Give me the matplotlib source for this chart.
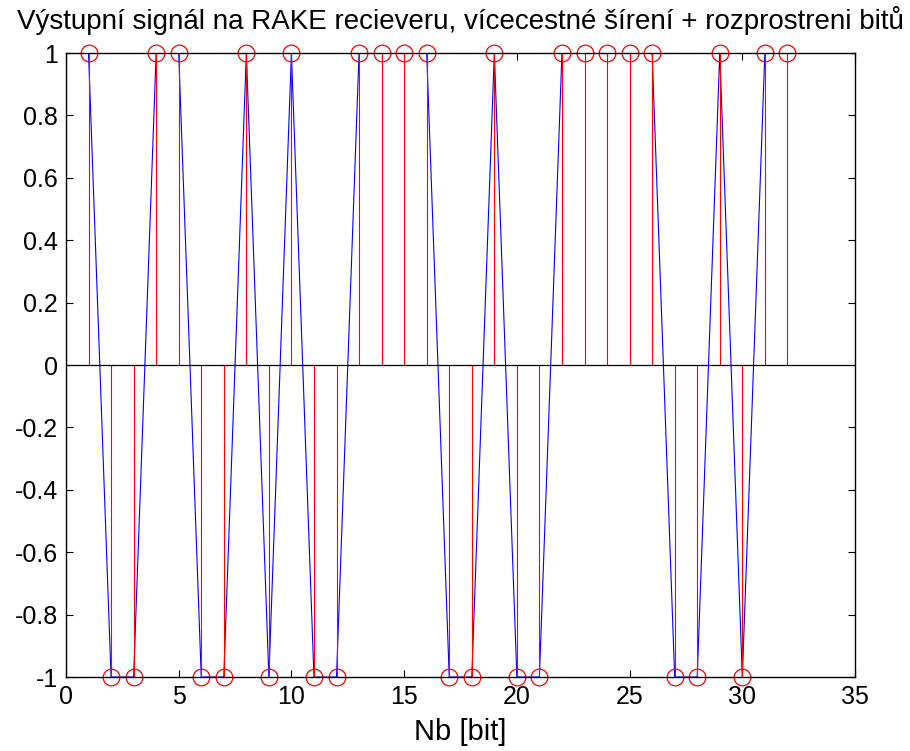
import numpy as np
import matplotlib.pyplot as plt

plt.rcParams['font.family'] = ['Liberation Sans', 'DejaVu Sans']

# bit index and received value
nb = np.arange(1, 33)
vystup = [1, -1, -1, 1, 1, -1, -1, 1, -1, 1, -1, -1, 1, 1, 1, 1,
          -1, -1, 1, -1, -1, 1, 1, 1, 1, 1, -1, -1, 1, -1, 1, 1]

fig = plt.figure(figsize=(9.1, 7.51), dpi=100)
ax = fig.add_axes([0.0725, 0.0985, 0.8671, 0.8309])

# blue line connecting the samples (ends at bit 31)
ax.plot(nb[:31], vystup[:31], color='blue', lw=0.8)

ml, sl, bl = ax.stem(nb, vystup, linefmt='r-', markerfmt='o', basefmt='none')
plt.setp(sl, lw=0.8, color='red')
plt.setp(ml, markersize=12, markerfacecolor='none', markeredgecolor='red', markeredgewidth=0.9)
ml.set_clip_on(False)
ax.axhline(0, color='black', lw=0.9)

ax.set_xlim(0, 35)
ax.set_ylim(-1, 1)
ax.set_xticks(np.arange(0, 36, 5))
ax.set_yticks(np.arange(-1, 1.01, 0.2))
ax.set_yticklabels(['-1', '-0.8', '-0.6', '-0.4', '-0.2', '0', '0.2', '0.4', '0.6', '0.8', '1'])
ax.tick_params(direction='in', top=True, right=True, labelsize=18, length=5, width=0.8, pad=6)
for s in ax.spines.values():
    s.set_linewidth(1)

ax.set_title('Výstupní signál na RAKE recieveru, vícecestné šírení + rozprostreni bitů', fontsize=20, pad=17)
ax.set_xlabel('Nb [bit]', fontsize=21, labelpad=6)

fig.savefig('out.png', dpi=100)
